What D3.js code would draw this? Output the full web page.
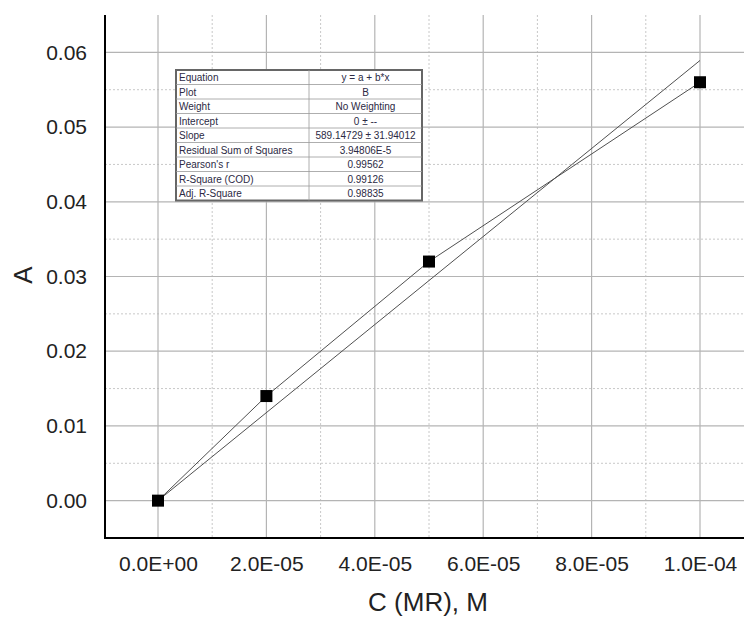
<!DOCTYPE html>
<html><head><meta charset="utf-8">
<script src="https://cdn.jsdelivr.net/npm/d3@7"></script>
<style>body{margin:0;background:#fff}svg{display:block}</style>
</head><body>
<script>
const concentrations = [0, 2e-5, 5e-5, 1e-4];
const absorbance = [0, 0.014, 0.032, 0.056];
const fitSlope = 589.14729;
const fitX = [0, 1e-4];
const xTicks = [0, 2e-5, 4e-5, 6e-5, 8e-5, 1e-4];
const xTickLabels = ["0.0E+00", "2.0E-05", "4.0E-05", "6.0E-05", "8.0E-05", "1.0E-04"];
const xMinor = [1e-5, 3e-5, 5e-5, 7e-5, 9e-5];
const yTicks = [0, 0.01, 0.02, 0.03, 0.04, 0.05, 0.06];
const yTickLabels = ["0.00", "0.01", "0.02", "0.03", "0.04", "0.05", "0.06"];
const yMinor = [0.005, 0.015, 0.025, 0.035, 0.045, 0.055];
const tableLabels = ["Equation", "Plot", "Weight", "Intercept", "Slope", "Residual Sum of Squares", "Pearson's r", "R-Square (COD)", "Adj. R-Square"];
const tableValues = ["y = a + b*x", "B", "No Weighting", "0 \u00b1 --", "589.14729 \u00b1 31.94012", "3.94806E-5", "0.99562", "0.99126", "0.98835"];

const W = 744, H = 618;
const svg = d3.select("body").append("svg").attr("width", W).attr("height", H);
const x = d3.scaleLinear().domain([0, 1e-4]).range([158, 700]);
const y = d3.scaleLinear().domain([-0.005, 0.065]).range([538, 15]);
const L = 105, R = 744, T = 15, B = 538;

// grid
const g = svg.append("g");
g.selectAll(".xm").data(xMinor).enter().append("line")
  .attr("x1", d => x(d)).attr("x2", d => x(d)).attr("y1", T).attr("y2", B)
  .attr("stroke", "#c8c8c8").attr("stroke-dasharray", "2,2").attr("stroke-width", 1);
g.selectAll(".ym").data(yMinor).enter().append("line")
  .attr("x1", L).attr("x2", R).attr("y1", d => y(d)).attr("y2", d => y(d))
  .attr("stroke", "#c8c8c8").attr("stroke-dasharray", "2,2").attr("stroke-width", 1);
g.selectAll(".xg").data(xTicks).enter().append("line")
  .attr("x1", d => x(d)).attr("x2", d => x(d)).attr("y1", T).attr("y2", B)
  .attr("stroke", "#b4b4b4").attr("stroke-width", 1.2);
g.selectAll(".yg").data(yTicks).enter().append("line")
  .attr("x1", L).attr("x2", R).attr("y1", d => y(d)).attr("y2", d => y(d))
  .attr("stroke", "#b4b4b4").attr("stroke-width", 1.2);

// axes
const xAxis = d3.axisBottom(x).tickValues(xTicks).tickSize(0).tickPadding(18)
  .tickFormat((d, i) => xTickLabels[i]);
const yAxis = d3.axisLeft(y).tickValues(yTicks).tickSize(0).tickPadding(18)
  .tickFormat((d, i) => yTickLabels[i]);
const gx = svg.append("g").attr("transform", `translate(0,${B})`).call(xAxis);
const gy = svg.append("g").attr("transform", `translate(${L},0)`).call(yAxis);
[gx, gy].forEach(a => {
  a.select(".domain").remove();
  a.selectAll("text").attr("font-family", "Arial, 'Liberation Sans', sans-serif")
    .attr("font-size", 21).attr("fill", "#222");
});
svg.append("line").attr("x1", L).attr("x2", L).attr("y1", T).attr("y2", B + 1)
  .attr("stroke", "#000").attr("stroke-width", 2);
svg.append("line").attr("x1", L - 1).attr("x2", R).attr("y1", B).attr("y2", B)
  .attr("stroke", "#000").attr("stroke-width", 2);

// titles
svg.append("text").attr("x", 428).attr("y", 611).attr("text-anchor", "middle")
  .attr("font-family", "Arial, 'Liberation Sans', sans-serif").attr("font-size", 26).attr("fill", "#222")
  .text("C (MR), M");
svg.append("text").attr("transform", "translate(32,275) rotate(-90)").attr("text-anchor", "middle")
  .attr("font-family", "Arial, 'Liberation Sans', sans-serif").attr("font-size", 26).attr("fill", "#222")
  .text("A");

// lines
const pts = concentrations.map((c, i) => [c, absorbance[i]]);
const line = d3.line().x(d => x(d[0])).y(d => y(d[1]));
svg.append("path").datum(pts).attr("d", line).attr("fill", "none")
  .attr("stroke", "#505050").attr("stroke-width", 1);
svg.append("path").datum(fitX.map(c => [c, c * fitSlope])).attr("d", line).attr("fill", "none")
  .attr("stroke", "#505050").attr("stroke-width", 1);

// markers
const s = 12;
svg.selectAll(".pt").data(pts).enter().append("rect")
  .attr("x", d => x(d[0]) - s / 2).attr("y", d => y(d[1]) - s / 2)
  .attr("width", s).attr("height", s).attr("fill", "#000");

// table
const tx = 176, ty = 70, tw = 246, rh = 14.5, c1 = 133;
const tg = svg.append("g");
tg.append("rect").attr("x", tx).attr("y", ty).attr("width", tw).attr("height", rh * tableLabels.length)
  .attr("fill", "#fff").attr("stroke", "#666").attr("stroke-width", 2);
tableLabels.forEach((lab, i) => {
  if (i > 0) tg.append("line").attr("x1", tx).attr("x2", tx + tw)
    .attr("y1", ty + i * rh).attr("y2", ty + i * rh).attr("stroke", "#999").attr("stroke-width", 0.8);
  tg.append("text").attr("x", tx + 3).attr("y", ty + i * rh + 11)
    .attr("font-family", "Arial, 'Liberation Sans', sans-serif").attr("font-size", 10).attr("fill", "#2c2a44")
    .text(lab);
  tg.append("text").attr("x", tx + c1 + (tw - c1) / 2).attr("y", ty + i * rh + 11).attr("text-anchor", "middle")
    .attr("font-family", "Arial, 'Liberation Sans', sans-serif").attr("font-size", 10).attr("fill", "#2c2a44")
    .text(tableValues[i]);
});
tg.append("line").attr("x1", tx + c1).attr("x2", tx + c1).attr("y1", ty).attr("y2", ty + rh * tableLabels.length)
  .attr("stroke", "#999").attr("stroke-width", 0.8);
</script>
</body></html>
